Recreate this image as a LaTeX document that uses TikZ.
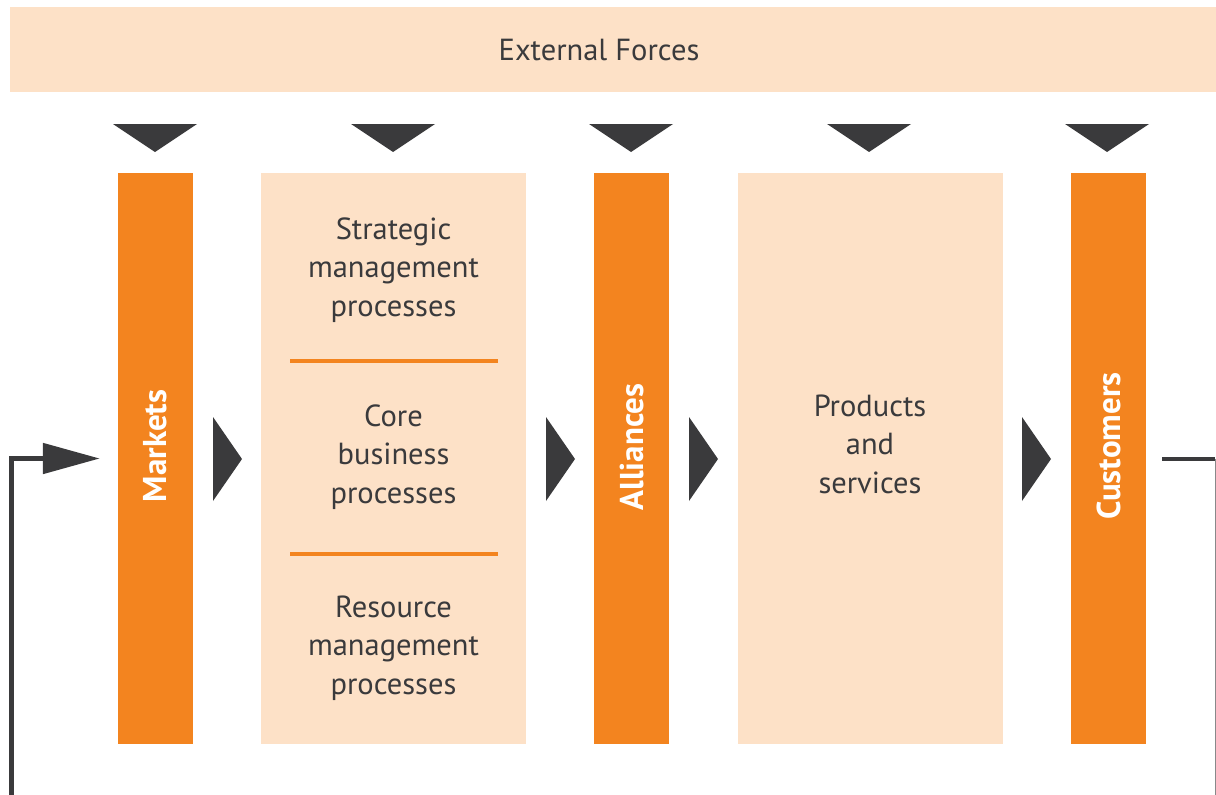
\documentclass[tikz,border=0pt]{standalone}
\usepackage{fontspec}
\setmainfont{PT Sans}
\usepackage{tikz}
\usetikzlibrary{arrows.meta}
\usetikzlibrary{positioning}

\definecolor{bar}{HTML}{F3841F}
\definecolor{pale}{HTML}{FDE1C7}
\definecolor{ink}{HTML}{3A3A3C}

\begin{document}
\begin{tikzpicture}[x=1pt,y=-1pt,
		bar/.style={rectangle,fill=bar,minimum width=75pt,minimum height=571pt,inner sep=0pt},
		box/.style={rectangle,fill=pale,minimum width=265pt,minimum height=571pt,inner sep=0pt},
		barlabel/.style={rotate=90,text=white,font=\fontsize{33}{36}\selectfont\bfseries},
		boxlabel/.style={align=center,text=ink,font=\fontsize{30.5}{38.5}\selectfont}]
			\useasboundingbox (0,0) rectangle (1216,795);
			
			% external forces
			
			\node[rectangle,fill=pale,minimum width=1206pt,minimum height=85pt,inner sep=0pt] (ext) at (613,49.5) {};
			\node[boxlabel] (extlabel) at (599,50) {External Forces};
			\foreach \x in {155,393,631,869,1107} {
				\fill[ink] (\x-42,124) -- (\x+42,124) -- (\x,152) -- cycle;
			}
			
			% columns
			
			\node[bar] (markets) at (155.5,458.5) {};
			\node[box] (processes) at (393.5,458.5) {};
			\node[bar] (alliances) at (631.5,458.5) {};
			\node[box] (products) at (870,458.5) {};
			\node[bar] (customers) at (1108.5,458.5) {};
			
			\node[barlabel] (marketslabel) at (155.5,446) {Markets};
			\node[barlabel] (allianceslabel) at (631.5,447) {Alliances};
			\node[barlabel] (customerslabel) at (1108.5,446) {Customers};
			
			\node[boxlabel] (strategic) at (393.5,270) {Strategic\\management\\processes};
			\node[boxlabel] (core) at (393.5,457) {Core\\business\\processes};
			\node[boxlabel] (resource) at (393.5,648) {Resource\\management\\processes};
			\node[boxlabel] (prodlabel) at (870,444) {Products\\and\\services};
			\draw[draw=bar,line width=4pt] (290,361) -- (498,361);
			\draw[draw=bar,line width=4pt] (290,554) -- (498,554);
			
			\foreach \x in {213,546,689,1022} {
				\fill[ink] (\x,417) -- (\x+29,459) -- (\x,501) -- cycle;
			}
			
			% feedback
			
			\coordinate (fbleft) at (11.5,800);
			\coordinate (fbright) at (1215,800);
			\draw[ink,line width=5pt,-{Triangle[length=57pt,width=30pt]},shorten >=18pt] (fbleft) |- (markets.west);
			\draw[ink,line width=4pt,shorten <=16pt] (customers.east) -- (1215,458.5);
			\draw[ink!60,line width=1pt] (1215,458.5) -- (fbright);
		\end{tikzpicture}
\end{document}
